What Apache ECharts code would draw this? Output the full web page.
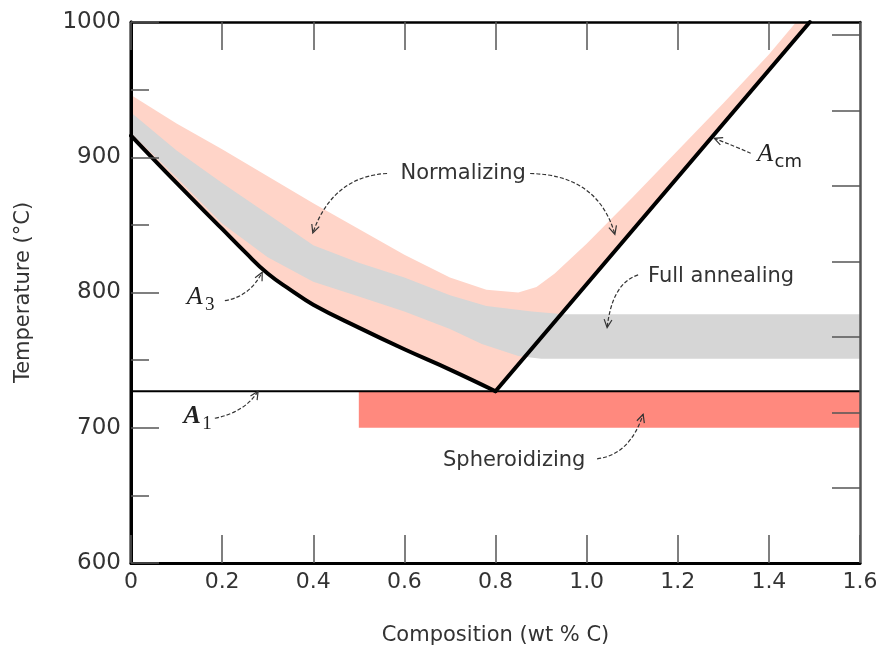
<!DOCTYPE html>
<html>
<head>
<meta charset="utf-8">
<title>Heat treatment ranges, iron-carbon</title>
<script src="https://cdn.jsdelivr.net/npm/echarts@6/dist/echarts.min.js"></script>
<style>
html, body { margin: 0; padding: 0; background: #fff; }
#main { width: 876px; height: 647px; }
</style>
</head>
<body>
<div id="main"></div>
<script>
// axis ranges / ticks
const xRange = [0, 1.6];
const xStep = 0.2;
const yRange = [600, 1000];
const yStep = 100;
// right axis (°F); its labels are cut off in the source
const fRange = [1101, 1817];
const fTicks = [1200, 1300, 1400, 1500, 1600, 1700, 1800];

// phase boundaries [wt% C, °C]
const a3Line = [[0, 916], [0.1, 881], [0.2, 847], [0.25, 830], [0.3, 814], [0.35, 802], [0.4, 791], [0.5, 774], [0.6, 758], [0.7, 743], [0.8, 727]];
const acmLine = [[0.8, 727], [1.49, 1000]];
const a1Temp = 727;

// heat treatment ranges
const normalizingTop = [[0, 946], [0.1, 925], [0.2, 906], [0.3, 886], [0.4, 866], [0.5, 847], [0.6, 828], [0.7, 811], [0.78, 802], [0.85, 800], [0.89, 804], [0.93, 814], [1.0, 836], [1.1, 870], [1.2, 905], [1.3, 940], [1.4, 976], [1.46, 1000]];
const annealTop = [[0, 933], [0.1, 905], [0.2, 881], [0.3, 858], [0.4, 835], [0.5, 822], [0.6, 811], [0.7, 798], [0.78, 790], [0.88, 786], [0.95, 784], [1.6, 784]];
const annealBottom = [[0, 918], [0.1, 885], [0.2, 851], [0.3, 826], [0.4, 808], [0.5, 797], [0.6, 786], [0.7, 773], [0.77, 762], [0.85, 753], [0.9, 751], [1.6, 751]];
const spheroComp = [0.5, 1.6];
const spheroTemp = [700, 727];

// labels + dashed arrows (start, control, tip), in data coords
const notes = [
  { text: 'Normalizing', at: [0.729, 888] },
  { text: 'Full annealing', at: [1.295, 812] },
  { text: 'Spheroidizing', at: [0.841, 676] }
];
const phaseNames = [
  { main: 'A', sub: '3', at: [0.14, 796.5], bold: false, subSans: false },
  { main: 'A', sub: '1', at: [0.134, 708.5], bold: true, subSans: false },
  { main: 'A', sub: 'cm', at: [1.392, 902], bold: false, subSans: true }
];
const arrows = [
  [[0.562, 888], [0.443, 886], [0.399, 844]],
  [[0.876, 888], [1.025, 887], [1.062, 843]],
  [[0.206, 794], [0.261, 797], [0.288, 815]],
  [[0.184, 707], [0.25, 711.5], [0.279, 727]],
  [[1.36, 903], [1.326, 908], [1.28, 914]],
  [[1.113, 813], [1.056, 807], [1.045, 774]],
  [[1.023, 677], [1.095, 680], [1.124, 710]]
];

const sans = '"DejaVu Sans", sans-serif';
const serif = '"Liberation Serif", "DejaVu Serif", serif';
const ink = '#333';

function areaSeries (points, color, z) {
  return {
    type: 'custom',
    z: z,
    silent: true,
    data: [[0, 0]],
    renderItem: function (params, api) {
      return {
        type: 'polygon',
        shape: { points: points.map(function (p) { return api.coord(p) }) },
        style: { fill: color }
      }
    }
  }
}

function lineSeries (data, width, z) {
  return {
    type: 'line',
    z: z,
    silent: true,
    clip: false,
    symbol: 'none',
    smooth: data.length > 2 ? 0.45 : false,
    data: data,
    lineStyle: { color: '#000', width: width, cap: 'round', join: 'round' }
  }
}

function headPoints (tip, from, size) {
  const ang = Math.atan2(tip[1] - from[1], tip[0] - from[0])
  const l = ang + Math.PI - 0.45
  const r = ang + Math.PI + 0.45
  return [
    [tip[0] + size * Math.cos(l), tip[1] + size * Math.sin(l)],
    tip,
    [tip[0] + size * Math.cos(r), tip[1] + size * Math.sin(r)]
  ]
}

const pinkArea = a3Line.concat(acmLine.slice(1)).concat(normalizingTop.slice().reverse());
const greyArea = annealTop.concat(annealBottom.slice().reverse());
const redArea = [[spheroComp[0], spheroTemp[0]], [spheroComp[1], spheroTemp[0]], [spheroComp[1], spheroTemp[1]], [spheroComp[0], spheroTemp[1]]];

const tickStyle = { color: '#555', width: 1.5 };

const chart = echarts.init(document.getElementById('main'));

chart.setOption({
  animation: false,
  backgroundColor: '#fff',
  grid: { left: 131, right: 16, top: 22, bottom: 84, outerBoundsMode: 'none' },
  xAxis: [
    {
      type: 'value',
      position: 'bottom',
      z: 10,
      min: xRange[0],
      max: xRange[1],
      interval: xStep,
      name: 'Composition (wt % C)',
      nameLocation: 'middle',
      nameGap: 62,
      nameTextStyle: { fontFamily: sans, fontSize: 21, color: ink },
      axisLine: { show: true, onZero: false, lineStyle: { color: '#000', width: 3 } },
      axisTick: { show: true, inside: true, length: 28, lineStyle: tickStyle },
      axisLabel: {
        margin: 8,
        fontFamily: sans,
        fontSize: 22,
        color: ink,
        formatter: function (v) { return v === 0 ? '0' : v.toFixed(1) }
      },
      splitLine: { show: false }
    },
    {
      type: 'value',
      position: 'top',
      z: 10,
      min: xRange[0],
      max: xRange[1],
      interval: xStep,
      axisLine: { show: true, onZero: false, lineStyle: { color: '#000', width: 2.5 } },
      axisTick: { show: true, inside: true, length: 28, lineStyle: tickStyle },
      axisLabel: { show: false },
      splitLine: { show: false }
    }
  ],
  yAxis: [
    {
      type: 'value',
      position: 'left',
      z: 10,
      min: yRange[0],
      max: yRange[1],
      interval: yStep,
      name: 'Temperature (°C)',
      nameLocation: 'middle',
      nameGap: 97,
      nameTextStyle: { fontFamily: sans, fontSize: 21, color: ink },
      axisLine: { show: true, onZero: false, lineStyle: { color: '#000', width: 3 } },
      axisTick: { show: true, inside: true, length: 28, lineStyle: tickStyle },
      minorTick: { show: true, splitNumber: 2, length: 18, lineStyle: tickStyle },
      axisLabel: {
        margin: 10,
        fontFamily: sans,
        fontSize: 23,
        color: ink,
        formatter: function (v) { return String(v) }
      },
      splitLine: { show: false }
    },
    {
      type: 'value',
      position: 'right',
      z: 10,
      min: fRange[0],
      max: fRange[1],
      axisLine: { show: true, onZero: false, lineStyle: { color: '#555', width: 2.5 } },
      axisTick: { show: true, inside: true, length: 28, customValues: fTicks, lineStyle: tickStyle },
      axisLabel: { show: false },
      splitLine: { show: false }
    }
  ],
  series: [
    areaSeries(pinkArea, '#FFD4C8', 1),
    areaSeries(greyArea, '#D6D6D6', 2),
    areaSeries(redArea, '#FF897E', 2),
    lineSeries([[xRange[0], a1Temp], [xRange[1], a1Temp]], 2, 4),
    lineSeries(a3Line, 4, 5),
    lineSeries(acmLine, 4, 5),
    // left frame (the left axis line gets hidden otherwise)
    lineSeries([[xRange[0], yRange[0]], [xRange[0], yRange[1]]], 3, 8),
    {
      // dashed arrows
      type: 'custom',
      z: 6,
      silent: true,
      data: [[0, 0]],
      renderItem: function (params, api) {
        const children = []
        arrows.forEach(function (a) {
          const p0 = api.coord(a[0])
          const c = api.coord(a[1])
          const p1 = api.coord(a[2])
          children.push({
            type: 'bezierCurve',
            shape: { x1: p0[0], y1: p0[1], cpx1: c[0], cpy1: c[1], x2: p1[0], y2: p1[1] },
            style: { stroke: '#333', lineWidth: 1.2, lineDash: [4, 2], fill: 'none' }
          })
          children.push({
            type: 'polyline',
            shape: { points: headPoints(p1, c, 9) },
            style: { stroke: '#333', lineWidth: 1.2, fill: 'none' }
          })
        })
        return { type: 'group', children: children }
      }
    },
    {
      // text labels
      type: 'custom',
      z: 7,
      silent: true,
      data: [[0, 0]],
      renderItem: function (params, api) {
        const children = []
        notes.forEach(function (n) {
          const p = api.coord(n.at)
          children.push({
            type: 'text',
            x: p[0],
            y: p[1],
            style: { text: n.text, fill: ink, font: '21px ' + sans, align: 'center', verticalAlign: 'middle' }
          })
        })
        phaseNames.forEach(function (n) {
          const p = api.coord(n.at)
          children.push({
            type: 'text',
            x: p[0],
            y: p[1],
            style: {
              text: n.main,
              fill: '#222',
              font: 'italic ' + (n.bold ? 'bold ' : '') + '26px ' + serif,
              align: 'center',
              verticalAlign: 'middle'
            }
          })
          children.push({
            type: 'text',
            x: p[0] + (n.subSans ? 23 : 15),
            y: p[1] + 8,
            style: {
              text: n.sub,
              fill: '#222',
              font: n.subSans ? '18px ' + sans : '19px ' + serif,
              align: 'center',
              verticalAlign: 'middle'
            }
          })
        })
        return { type: 'group', children: children }
      }
    }
  ]
});
</script>
</body>
</html>
